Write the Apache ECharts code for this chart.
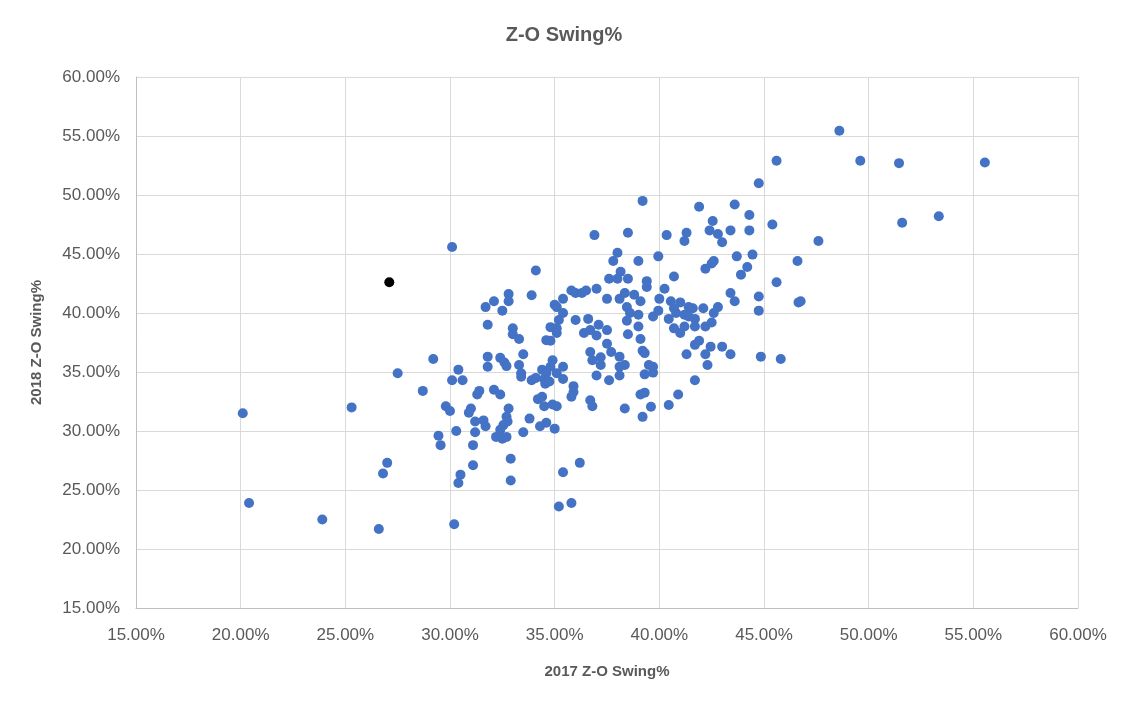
<!DOCTYPE html>
<html>
<head>
<meta charset="utf-8">
<title>Z-O Swing%</title>
<script src="https://cdn.jsdelivr.net/npm/echarts@6/dist/echarts.min.js"></script>
<style>
  html, body { margin: 0; padding: 0; background: #fff; }
  #main { width: 1128px; height: 708px; }
</style>
</head>
<body>
<div id="main"></div>
<script>
// 2017 Z-O Swing% (x) / 2018 Z-O Swing% (y), in percent
var swing2017 = [
  29.2, 27.5, 28.7, 20.1, 25.3, 29.45, 29.55, 27.0, 26.8, 20.4, 23.9, 26.6,
  30.1, 36.9, 34.1, 38.0, 37.8, 32.8, 32.8, 32.1, 31.7, 32.5, 33.9, 31.8,
  33.0, 33.0, 33.3, 31.8, 31.8, 32.4, 32.6, 32.7, 33.5, 33.3, 33.4, 33.4,
  30.4, 30.1, 30.6, 31.4, 32.1, 33.9, 34.1, 34.4, 34.6, 34.5, 34.55, 34.9,
  34.8, 35.1, 35.4, 35.4, 35.9, 35.0, 35.1, 35.4, 35.4, 35.2, 34.8, 35.1,
  35.1, 34.6, 34.8, 35.8, 36.0, 36.3, 36.5, 37.0, 37.5, 36.0, 36.6, 37.1,
  37.5, 36.4, 36.7, 37.0, 37.6, 38.0, 38.1, 37.5, 37.7, 36.7, 36.8, 37.2,
  37.2, 37.0, 37.6, 38.1, 38.1, 38.1, 29.8, 30.0, 30.3, 31.3, 32.4, 31.0,
  30.9, 31.2, 31.6, 31.7, 31.2, 31.1, 31.1, 30.5, 30.4, 30.2, 32.8, 32.7,
  32.75, 32.55, 32.4, 32.2, 32.5, 32.7, 32.9, 32.9, 33.8, 33.5, 34.3, 34.6,
  35.0, 34.2, 34.4, 34.5, 34.9, 35.1, 35.9, 35.8, 36.7, 36.8, 36.2, 35.4,
  35.2, 35.8, 44.75, 39.2, 41.9, 43.6, 44.3, 42.55, 42.4, 42.8, 43.0, 43.4,
  44.3, 45.4, 38.5, 40.35, 41.3, 41.2, 39.0, 39.95, 42.6, 42.5, 42.2, 43.7,
  44.45, 44.2, 43.9, 46.6, 45.6, 38.15, 38.5, 40.7, 39.4, 39.4, 40.25, 38.35,
  38.8, 39.1, 38.45, 38.6, 39.0, 38.45, 39.0, 40.0, 40.55, 41.0, 40.7, 41.4,
  41.6, 42.1, 40.8, 41.2, 41.4, 41.7, 40.45, 39.7, 39.95, 42.8, 42.6, 42.5,
  43.4, 43.6, 44.75, 44.75, 46.65, 46.75, 40.7, 41.2, 41.7, 42.2, 38.5, 39.1,
  41.0, 41.9, 41.7, 42.45, 43.0, 41.3, 42.2, 43.4, 42.3, 44.85, 45.8, 41.7,
  40.9, 40.45, 39.2, 39.3, 39.5, 39.7, 39.3, 39.7, 38.35, 39.1, 39.3, 39.6,
  38.35, 39.2, 48.6, 49.6, 51.45, 55.55, 51.6, 53.35, 47.6, 45.6, 34.75
];
var swing2018 = [
  36.1, 34.9, 33.4, 31.5, 32.0, 29.6, 28.8, 27.3, 26.4, 23.9, 22.5, 21.7,
  45.6, 46.6, 43.6, 45.1, 44.4, 41.6, 41.0, 41.0, 40.5, 40.2, 41.5, 39.0,
  38.7, 38.2, 37.8, 36.3, 35.45, 36.2, 35.8, 35.5, 36.5, 35.6, 34.9, 34.6,
  35.2, 34.3, 34.3, 33.4, 33.5, 34.3, 34.5, 35.2, 34.9, 34.4, 34.0, 36.0,
  35.45, 34.9, 35.45, 34.4, 33.8, 40.7, 40.5, 40.0, 41.2, 39.4, 38.8, 38.7,
  38.3, 37.7, 37.65, 41.9, 41.7, 41.7, 41.9, 42.05, 41.2, 39.4, 39.5, 39.0,
  38.55, 38.3, 38.55, 38.1, 42.9, 42.9, 41.2, 37.4, 36.7, 36.7, 36.0, 36.25,
  35.6, 34.7, 34.3, 36.3, 35.45, 34.7, 32.1, 31.7, 30.0, 33.1, 33.1, 31.9,
  31.55, 30.8, 30.9, 30.4, 29.9, 28.8, 27.1, 26.3, 25.6, 22.1, 31.9, 31.2,
  30.8, 30.5, 30.1, 29.5, 29.35, 29.5, 27.65, 25.8, 31.05, 29.9, 30.4, 30.7,
  30.2, 32.7, 32.9, 32.1, 32.25, 32.1, 33.3, 32.9, 32.6, 32.1, 27.3, 26.5,
  23.6, 23.9, 51.0, 49.5, 49.0, 49.2, 48.3, 47.8, 47.0, 46.7, 46.0, 47.0,
  47.0, 47.5, 46.8, 46.6, 46.8, 46.1, 44.4, 44.8, 44.4, 44.2, 43.75, 44.8,
  44.95, 43.9, 43.25, 44.4, 42.6, 43.5, 42.9, 43.1, 42.7, 42.2, 42.05, 41.7,
  41.55, 41.0, 40.5, 40.0, 39.85, 39.35, 38.85, 41.2, 41.0, 40.9, 40.4, 40.5,
  40.4, 40.4, 40.0, 39.85, 39.7, 39.5, 39.5, 39.7, 40.2, 40.5, 40.0, 39.2,
  41.7, 41.0, 41.4, 40.2, 40.9, 41.0, 38.7, 38.85, 38.85, 38.85, 38.2, 37.8,
  38.3, 37.65, 37.3, 37.15, 37.15, 36.5, 36.5, 36.5, 35.6, 36.3, 36.1, 34.3,
  33.1, 32.2, 36.8, 36.6, 35.6, 35.45, 34.8, 34.95, 35.6, 33.1, 33.25, 32.05,
  31.9, 31.2, 55.45, 52.9, 52.7, 52.75, 47.65, 48.2, 46.1, 52.9, 34.2
];
// the one highlighted player
var highlight2017 = [27.1];
var highlight2018 = [42.6];

var axisTicks = [15, 20, 25, 30, 35, 40, 45, 50, 55, 60];

function pairs(xs, ys) {
    var out = [];
    for (var i = 0; i < xs.length; i++) {
        out.push([xs[i] / 100, ys[i] / 100]);
    }
    return out;
}

var textColor = '#595959';
var fontName = '"Liberation Sans", Arial, sans-serif';

function pctAxis(name, gap, rotate, labelMargin) {
    return {
        type: 'value',
        min: axisTicks[0] / 100,
        max: axisTicks[axisTicks.length - 1] / 100,
        interval: 0.05,
        name: name,
        nameLocation: 'middle',
        nameGap: gap,
        nameRotate: rotate,
        nameTextStyle: { color: textColor, fontSize: 15, fontWeight: 'bold', fontFamily: fontName },
        axisLine: { show: true, lineStyle: { color: '#bfbfbf', width: 1 } },
        axisTick: { show: false },
        axisLabel: {
            color: textColor,
            fontSize: 17,
            fontFamily: fontName,
            margin: labelMargin,
            formatter: function (v) { return (v * 100).toFixed(2) + '%'; }
        },
        splitLine: { show: true, lineStyle: { color: '#d9d9d9', width: 1 } }
    };
}

var myChart = echarts.init(document.getElementById('main'));
myChart.setOption({
    animation: false,
    backgroundColor: '#ffffff',
    title: {
        text: 'Z-O Swing%',
        left: 'center',
        top: 20,
        textStyle: { color: textColor, fontSize: 20, fontWeight: 'bold', fontFamily: fontName }
    },
    grid: { left: 136, right: 50, top: 77, bottom: 100 },
    xAxis: pctAxis('2017 Z-O Swing%', 56, 0, 19),
    yAxis: pctAxis('2018 Z-O Swing%', 92, 90, 16),
    series: [
        {
            name: 'Players',
            type: 'scatter',
            symbolSize: 10,
            itemStyle: { color: '#4472c4', opacity: 1 },
            data: pairs(swing2017, swing2018)
        },
        {
            name: 'Highlighted',
            type: 'scatter',
            symbolSize: 10,
            itemStyle: { color: '#000000', opacity: 1 },
            data: pairs(highlight2017, highlight2018)
        }
    ]
});
</script>
</body>
</html>
